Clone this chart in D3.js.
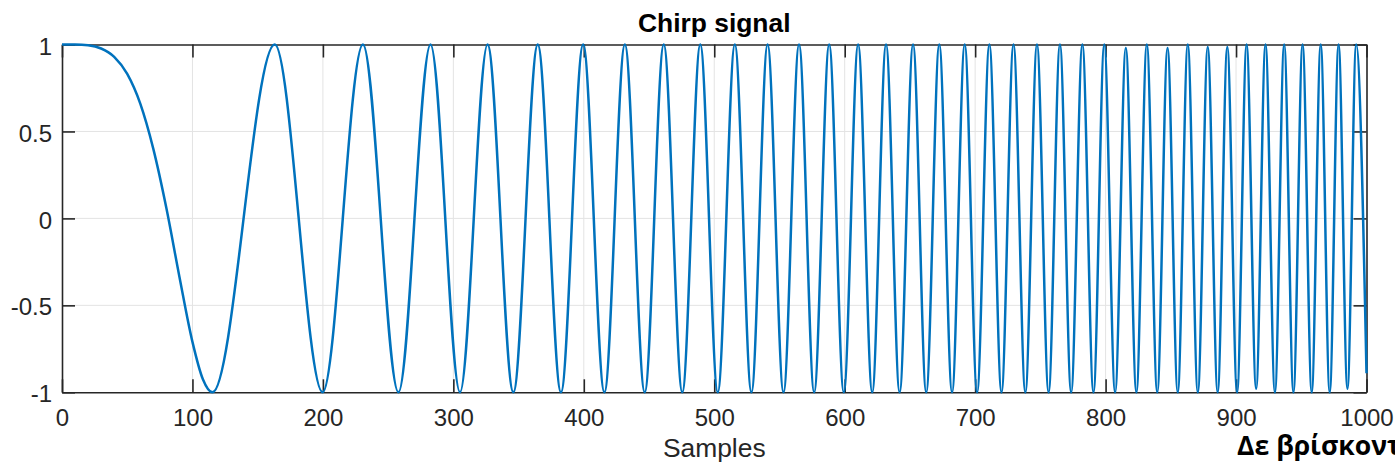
<!DOCTYPE html>
<html>
<head>
<meta charset="utf-8">
<script src="https://cdn.jsdelivr.net/npm/d3@7"></script>
<style>
  html, body { margin: 0; padding: 0; background: #ffffff; overflow: hidden; }
  svg { display: block; }
</style>
</head>
<body>
<svg id="chart" width="1395" height="465"></svg>
<script>
// ---------------- data ----------------
const titleText = "Chirp signal";
const xLabelText = "Samples";
const footText = "Δε βρίσκονται";

const xDomain = [0, 1000];
const yDomain = [-1, 1];
const xTickValues = [0, 100, 200, 300, 400, 500, 600, 700, 800, 900, 1000];
const yTickValues = [-1, -0.5, 0, 0.5, 1];
const yTickLabels = ["-1", "-0.5", "0", "0.5", "1"];

// sample positions of the traced points (the first slow lobe, then every crest and trough)
const sampleIndex = [
  0, 10, 20, 30, 40, 50, 60, 70, 80, 90, 100, 108,
  115.3, 163.1, 199.8, 230.7, 257.9, 282.5, 305.1, 326.2, 346.0, 364.7, 382.5, 399.5,
  415.8, 431.5, 446.7, 461.3, 475.5, 489.3, 502.7, 515.8, 528.5, 540.9, 553.1, 565.0,
  576.6, 588.1, 599.3, 610.3, 621.1, 631.7, 642.1, 652.4, 662.5, 672.5, 682.3, 692.0,
  701.5, 710.9, 720.2, 729.4, 738.5, 747.4, 756.3, 765.0, 773.6, 782.2, 790.7, 799.0,
  807.3, 815.5, 823.6, 831.6, 839.6, 847.5, 855.3, 863.0, 870.7, 878.3, 885.9, 893.3,
  900.8, 908.1, 915.4, 922.6, 929.8, 936.9, 944.0, 951.0, 958.0, 964.9, 971.8, 978.6,
  985.4, 992.1, 1000
];
// signal amplitude at those positions
const amplitude = [
  1, 0.9997, 0.9955, 0.977, 0.929, 0.831, 0.66, 0.40, 0.06, -0.335, -0.71, -0.925,
  -1, 1, -1, 1, -1, 1, -1, 1, -1, 1, -1, 1,
  -1, 1, -1, 1, -1, 1, -1, 1, -1, 1, -1, 1,
  -1, 1, -1, 1, -1, 1, -1, 1, -1, 1, -1, 1,
  -1, 1, -1, 1, -1, 1, -1, 1, -1, 1, -1, 1,
  -1, 0.98, -1, 1, -1, 0.98, -1, 1, -1, 0.985, -1, 0.985,
  -1, 1, -0.98, 1, -1, 1, -1, 1, -1, 1, -1, 1,
  -0.98, 1, -0.89
];

// ---------------- drawing ----------------
const svg = d3.select("#chart");
const plot = { left: 62, right: 1366.5, top: 44.5, bottom: 392.3 };

const x = d3.scaleLinear().domain(xDomain).range([plot.left, plot.right]);
const y = d3.scaleLinear().domain(yDomain).range([plot.bottom, plot.top]);

const axisColor = "#262626";
const gridColor = "#e3e3e3";
const lineColor = "#0072BD";
const font = "'Liberation Sans', Arial, Helvetica, sans-serif";

// grid
const grid = svg.append("g");
grid.selectAll("line.gx")
  .data(xTickValues.filter(v => v > xDomain[0] && v < xDomain[1]))
  .join("line")
  .attr("x1", d => x(d)).attr("x2", d => x(d))
  .attr("y1", plot.top).attr("y2", plot.bottom)
  .attr("stroke", gridColor).attr("stroke-width", 1);
grid.selectAll("line.gy")
  .data(yTickValues.filter(v => v > yDomain[0] && v < yDomain[1]))
  .join("line")
  .attr("x1", plot.left).attr("x2", plot.right)
  .attr("y1", d => y(d)).attr("y2", d => y(d))
  .attr("stroke", gridColor).attr("stroke-width", 1);

function styleAxis(g) {
  g.select(".domain").attr("stroke", axisColor).attr("stroke-width", 1.6);
  g.selectAll(".tick line").attr("stroke", axisColor).attr("stroke-width", 1.6);
  g.selectAll(".tick text")
    .attr("fill", axisColor)
    .style("font-family", font)
    .style("font-size", "24px");
}

const tickLen = 13;

// bottom axis
svg.append("g")
  .attr("transform", `translate(0,${plot.bottom})`)
  .call(d3.axisBottom(x).tickValues(xTickValues).tickSizeInner(-tickLen).tickSizeOuter(0).tickPadding(17)
        .tickFormat(d3.format("d")))
  .call(styleAxis);

// top axis (no labels)
svg.append("g")
  .attr("transform", `translate(0,${plot.top})`)
  .call(d3.axisTop(x).tickValues(xTickValues).tickSizeInner(-tickLen).tickSizeOuter(0).tickFormat(""))
  .call(styleAxis);

// left axis
svg.append("g")
  .attr("transform", `translate(${plot.left},0)`)
  .call(d3.axisLeft(y).tickValues(yTickValues).tickSizeInner(-tickLen).tickSizeOuter(0).tickPadding(10)
        .tickFormat((d, i) => yTickLabels[i]))
  .call(styleAxis)
  .call(g => g.selectAll(".tick text").attr("dy", "0.40em"));

// right axis (no labels)
svg.append("g")
  .attr("transform", `translate(${plot.right},0)`)
  .call(d3.axisRight(y).tickValues(yTickValues).tickSizeInner(-tickLen).tickSizeOuter(0).tickFormat(""))
  .call(styleAxis);

// signal
const line = d3.line()
  .x((d, i) => x(sampleIndex[i]))
  .y(d => y(d))
  .curve(d3.curveMonotoneX);

svg.append("path")
  .datum(amplitude)
  .attr("d", line)
  .attr("fill", "none")
  .attr("stroke", lineColor)
  .attr("stroke-width", 2.5)
  .attr("stroke-linejoin", "round");

// title
svg.append("text")
  .attr("x", (plot.left + plot.right) / 2)
  .attr("y", 31.5)
  .attr("text-anchor", "middle")
  .attr("fill", "#000")
  .style("font-family", font)
  .style("font-weight", "bold")
  .style("font-size", "26.4px")
  .text(titleText);

// x label
svg.append("text")
  .attr("x", (plot.left + plot.right) / 2)
  .attr("y", 457)
  .attr("text-anchor", "middle")
  .attr("fill", axisColor)
  .style("font-family", font)
  .style("font-size", "26.4px")
  .text(xLabelText);

// Greek caption, cut by the right edge (sized so "Δε βρίσκον" spans ~150px and capitals ~18px tall)
const footFont = "'Open Sans', 'Noto Sans', sans-serif";
const probe = svg.append("text")
  .style("font-family", footFont).style("font-weight", "bold").style("font-size", "25px")
  .text("Δε βρίσκον");
const probeW = probe.node().getComputedTextLength() || 150;
probe.remove();
const footSize = 25 * 150 / probeW;
const footScaleY = Math.max(1, 18.3 / (0.714 * footSize));

svg.append("text")
  .attr("transform", `translate(1237,455) scale(1,${footScaleY.toFixed(3)})`)
  .attr("fill", "#000")
  .style("font-family", footFont)
  .style("font-weight", "bold")
  .style("font-size", footSize.toFixed(2) + "px")
  .text(footText);
</script>
</body>
</html>
